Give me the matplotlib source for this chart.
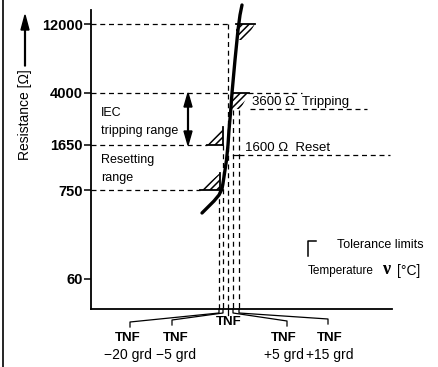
import matplotlib
matplotlib.use('Agg')
import matplotlib.pyplot as plt
from matplotlib.patches import Polygon
from matplotlib.lines import Line2D

plt.rcParams['font.family'] = ['Liberation Sans', 'DejaVu Sans']
plt.rcParams['hatch.linewidth'] = 1.1

# schematic diagram, coordinates are in drawing units (same as image pixels)
res_labels = ['12000', '4000', '1650', '750', '60']
res_pos = [24, 93, 145, 190, 279]

tnf_names = ['\u221220 grd', '\u22125 grd', '', '+5 grd', '+15 grd']
tnf_x = [219, 223, 227.5, 233, 239]
tnf_top = [190, 145, 24, 110, 110]
tnf_label_x = [128, 176, 229, 284, 330]
tnf_end_x = [130, 172, 227.5, 287, 328]
tnf_end_y = [322, 320, 315, 321, 319]

# PTC characteristic (thick curve)
curve_x = [202, 208, 214, 219, 222, 223.5, 225, 226.5, 228, 229, 230.5, 232, 235, 238, 240, 242]
curve_y = [213, 207, 201, 195, 189, 180, 170, 160, 145, 130, 113, 93, 60, 30, 15, 5]

# tolerance limit marks: corner x, level y, kind
tol_x = [236, 232, 223, 220]
tol_y = [24, 93, 145, 190]
tol_kind = ['top', 'top', 'bottom', 'bottom']
tol_w = [19, 17, 16, 20]
tol_h = [16, 16, 18, 17]

# horizontal dashed level lines (x start, x end, y)
hlines = [(91, 227.5, 24), (91, 232, 93), (248, 302, 93), (91, 207, 145),
          (91, 200, 190), (250, 367, 109), (239, 390, 155)]

fig = plt.figure(figsize=(4.38, 3.67), dpi=100)
W, H = 438, 367
x0, x1, ytop, ybot = 91, 392, 10, 309
ax = fig.add_axes([x0 / W, (H - ybot) / H, (x1 - x0) / W, (ybot - ytop) / H])
ax.set_xlim(x0, x1)
ax.set_ylim(ybot, ytop)
for s in ['top', 'right']:
    ax.spines[s].set_visible(False)
for s in ['left', 'bottom']:
    ax.spines[s].set_linewidth(1.3)
ax.set_xticks([])
ax.set_yticks(res_pos)
ax.set_yticklabels(res_labels, fontsize=10.5, fontweight='bold')
ax.tick_params(axis='y', direction='out', length=5, width=1.1, pad=1)

dash = (0, (4, 3))
for xa, xb, y in hlines:
    ax.plot([xa, xb], [y, y], color='black', lw=0.9, ls=dash, clip_on=False)
ax.plot([233, 239], [155, 155], color='black', lw=0.9)

for x, top in zip(tnf_x, tnf_top):
    ax.plot([x, x], [top, ybot], color='black', lw=0.9, ls=dash)

# tolerance marks
for x, y, k, w, h in zip(tol_x, tol_y, tol_kind, tol_w, tol_h):
    if k == 'top':
        pts = [(x, y), (x + w, y), (x + 0.5 * w, y + h), (x, y + h)]
        ax.plot([x, x + w], [y, y], color='black', lw=1.3)
    else:
        pts = [(x, y), (x - w, y), (x, y - h)]
        ax.plot([x - w, x], [y, y], color='black', lw=1.3)
        ax.plot([x, x], [y - h, y], color='black', lw=1.3)
    ax.add_patch(Polygon(pts, closed=True, fill=False, hatch='/////',
                         edgecolor='black', lw=0))

ax.plot(curve_x, curve_y, color='black', lw=2.4, solid_capstyle='round',
        clip_on=False)

# bottom brackets and TNF labels
for x, ex, ey, lx, name in zip(tnf_x, tnf_end_x, tnf_end_y, tnf_label_x, tnf_names):
    if name == '':
        ax.plot([x, x], [ybot, ey], color='black', lw=0.9, clip_on=False)
        ax.text(lx, ey + 7, 'TNF', ha='center', va='center', fontsize=9.5,
                fontweight='bold', clip_on=False)
    else:
        ax.plot([x, x, ex, ex], [ybot, 313, ey, ey + 5], color='black', lw=0.9,
                clip_on=False)
        ax.text(lx, 338, 'TNF', ha='center', va='center', fontsize=9.5,
                fontweight='bold', clip_on=False)
        ax.text(lx, 355, name, ha='center', va='center', fontsize=10,
                clip_on=False)

# text annotations
ax.text(101, 113, 'IEC', fontsize=9, va='center')
ax.text(101, 131, 'tripping range', fontsize=9, va='center')
ax.text(101, 160, 'Resetting', fontsize=9, va='center')
ax.text(101, 178, 'range', fontsize=9, va='center')
ax.text(252, 102, '3600 \u03a9  Tripping', fontsize=9.5, va='center', clip_on=False)
ax.text(245, 148, '1600 \u03a9  Reset', fontsize=9.5, va='center', clip_on=False)

# IEC tripping range double arrow
ax.arrow(188, 119, 0, -26, width=0.8, head_width=8, head_length=14,
         length_includes_head=True, color='black')
ax.arrow(188, 119, 0, 26, width=0.8, head_width=8, head_length=14,
         length_includes_head=True, color='black')

# legend and temperature label
ax.plot([308, 308, 316], [256, 241, 241], color='black', lw=1.1)
ax.text(337, 245, 'Tolerance limits', fontsize=9, va='center')
ax.text(308, 271, 'Temperature', fontsize=8.5, va='center')
ax.text(382, 270, '\u03bd', fontsize=13, va='center', fontweight='bold',
        family='Liberation Serif')
ax.text(397, 271, '[\u00b0C]', fontsize=10, va='center', clip_on=False)

# y label with arrow
ax.text(25, 115, 'Resistance [\u03a9]', rotation=90, fontsize=10, ha='center',
        va='center', clip_on=False)
ax.arrow(25, 66, 0, -51, width=0.8, head_width=8, head_length=15,
         length_includes_head=True, color='black', clip_on=False)

# scan border on the left edge
fig.add_artist(Line2D([2.5 / W, 2.5 / W], [0, 1], color='black', lw=1.2))

fig.savefig('out.png', dpi=100)
